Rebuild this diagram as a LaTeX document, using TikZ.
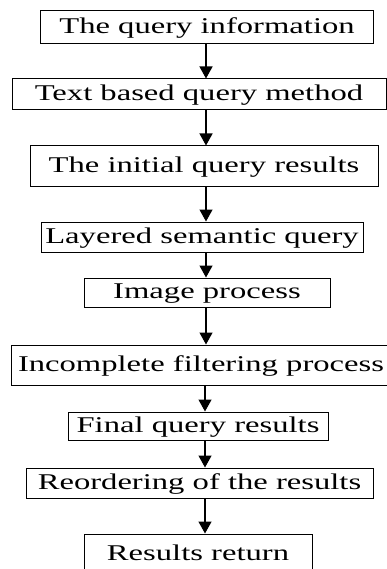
\documentclass[tikz,border=0pt]{standalone}
\usepackage{fontspec}
\setmainfont[FakeStretch=1.45]{Liberation Serif}
\usetikzlibrary{arrows.meta}
\begin{document}
\begin{tikzpicture}[x=1pt,y=-1pt,
  stepbox/.style={draw=black,line width=1pt,inner sep=0pt,
    font=\fontsize{22.5}{24}\selectfont,text height=14pt,text depth=2pt},
  flow/.style={draw=black,line width=1.3pt,-{Triangle[width=13pt,length=12pt]}}]
\clip (0,0) rectangle (387,569);
\fill[white] (0,0) rectangle (387,569);
% boxes: centre x, centre y, width, height
\node[stepbox,minimum width=333pt,minimum height=33pt] (b1) at (207,27.5) {The query information};
\node[stepbox,minimum width=374pt,minimum height=31pt] (b2) at (199,94.5) {Text based query method};
\node[stepbox,minimum width=348pt,minimum height=41pt] (b3) at (204,166.5) {The initial query results};
\node[stepbox,minimum width=322pt,minimum height=30pt] (b4) at (202,237) {Layered semantic query};
\node[stepbox,minimum width=246pt,minimum height=29pt] (b5) at (207,292.5) {Image process};
\node[stepbox,minimum width=380pt,minimum height=40pt] (b6) at (201,365) {Incomplete filtering process};
\node[stepbox,minimum width=260pt,minimum height=28pt] (b7) at (198,426) {Final query results};
\node[stepbox,minimum width=347pt,minimum height=30pt] (b8) at (199.5,483) {Reordering of the results};
\node[stepbox,minimum width=228pt,minimum height=40pt] (b9) at (198,554) {Results return};
% connectors
\draw[flow] (b1.south -| 206,0) -- (b2.north -| 206,0);
\draw[flow] (b2.south -| 206,0) -- (b3.north -| 206,0);
\draw[flow] (b3.south -| 206,0) -- (b4.north -| 206,0);
\draw[flow] (b4.south -| 206,0) -- (b5.north -| 206,0);
\draw[flow] (b5.south -| 206,0) -- (b6.north -| 206,0);
\draw[flow] (b6.south -| 205,0) -- (b7.north -| 205,0);
\draw[flow] (b7.south -| 205,0) -- (b8.north -| 205,0);
\draw[flow] (b8.south -| 205,0) -- (b9.north -| 205,0);
\end{tikzpicture}
\end{document}
